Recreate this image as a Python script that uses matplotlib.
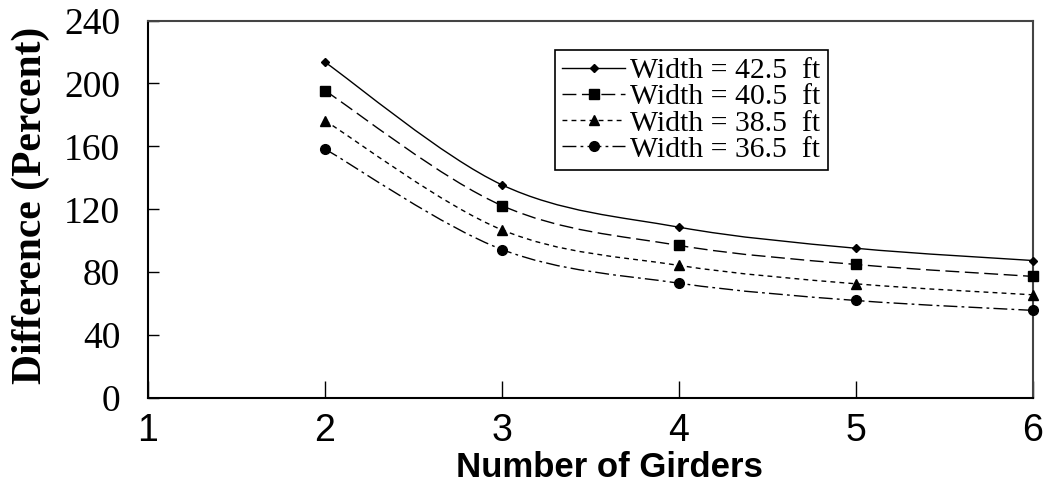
import numpy as np
import matplotlib
matplotlib.use("Agg")
import matplotlib.pyplot as plt
from matplotlib.path import Path
from matplotlib.patches import PathPatch
from matplotlib.lines import Line2D

# data
girders = [2, 3, 4, 5, 6]
w425 = [213.5, 135.5, 108.6, 95.2, 87.4]
w405 = [195.4, 122.3, 97.0, 84.9, 77.3]
w385 = [176.3, 106.9, 84.3, 72.6, 65.6]
w365 = [158.3, 94.4, 73.0, 62.0, 55.7]
labels = ["Width = 42.5  ft", "Width = 40.5  ft", "Width = 38.5  ft", "Width = 36.5  ft"]
yticks = [0, 40, 80, 120, 160, 200, 240]
xticks = [1, 2, 3, 4, 5, 6]

serif = "Liberation Serif"
sans = "Liberation Sans"


def smooth_path(x, y):
    # Excel-style smoothed line: cubic bezier segments through the points
    pts = np.column_stack([x, y]).astype(float)
    n = len(pts)
    verts = [pts[0]]
    codes = [Path.MOVETO]
    for i in range(n - 1):
        p0 = pts[i - 1] if i > 0 else pts[i]
        p1 = pts[i]
        p2 = pts[i + 1]
        p3 = pts[i + 2] if i + 2 < n else pts[i + 1]
        c1 = p1 + (p2 - p0) / 6.0
        c2 = p2 - (p3 - p1) / 6.0
        verts += [c1, c2, p2]
        codes += [Path.CURVE4] * 3
    return Path(verts, codes)


fig = plt.figure(figsize=(10.46, 4.98), dpi=100)
ax = fig.add_axes([0.1415, 0.2008, 0.8461, 0.758])

series = [
    (w425, "D", 4.5, "-"),
    (w405, "s", 6.5, (0, (10, 4))),
    (w385, "^", 7.5, (0, (3.5, 3))),
    (w365, "o", 7, (0, (10, 3, 2, 3))),
]

handles = []
for (vals, mk, ms, ls), lab in zip(series, labels):
    patch = PathPatch(smooth_path(girders, vals), fill=False, edgecolor="black",
                      linewidth=1.0, linestyle=ls)
    ax.add_patch(patch)
    ax.plot(girders, vals, linestyle="none", marker=mk, markersize=ms,
            color="black", clip_on=False, zorder=3)
    handles.append(Line2D([], [], color="black", linewidth=1.0, linestyle=ls,
                          marker=mk, markersize=ms))

ax.set_xlim(1, 6)
ax.set_ylim(0, 240)
ax.set_xticks(xticks)
ax.set_yticks(yticks)
ax.tick_params(axis="x", direction="in", length=12, width=1, pad=11, labelsize=27)
ax.tick_params(axis="y", direction="in", length=8, width=1, pad=20, labelsize=27)
for t in ax.get_xticklabels():
    t.set_fontfamily(sans)
for t in ax.get_yticklabels():
    t.set_fontfamily(serif)
for s in ax.spines.values():
    s.set_linewidth(1.5)
    s.set_color("black")
ax.spines["top"].set_color("#444444")
ax.spines["right"].set_color("#444444")

ax.set_xlabel("Number of Girders", fontsize=25, fontweight="bold", fontfamily=sans)
ax.xaxis.set_label_coords(0.521, -0.141)
ax.set_ylabel("Difference (Percent)", fontsize=30, fontweight="bold", fontfamily=serif)
ax.yaxis.set_label_coords(-0.111, 0.51)

leg = fig.legend(handles, labels, loc="upper left", bbox_to_anchor=(0.5306, 0.8996),
                 borderaxespad=0, fancybox=False, framealpha=1, edgecolor="black",
                 prop={"family": serif, "size": 21.4}, handlelength=2.1,
                 handletextpad=0.17, labelspacing=-0.02, borderpad=0.25)
leg.get_frame().set_linewidth(1.2)

fig.savefig("out.png", dpi=100)
